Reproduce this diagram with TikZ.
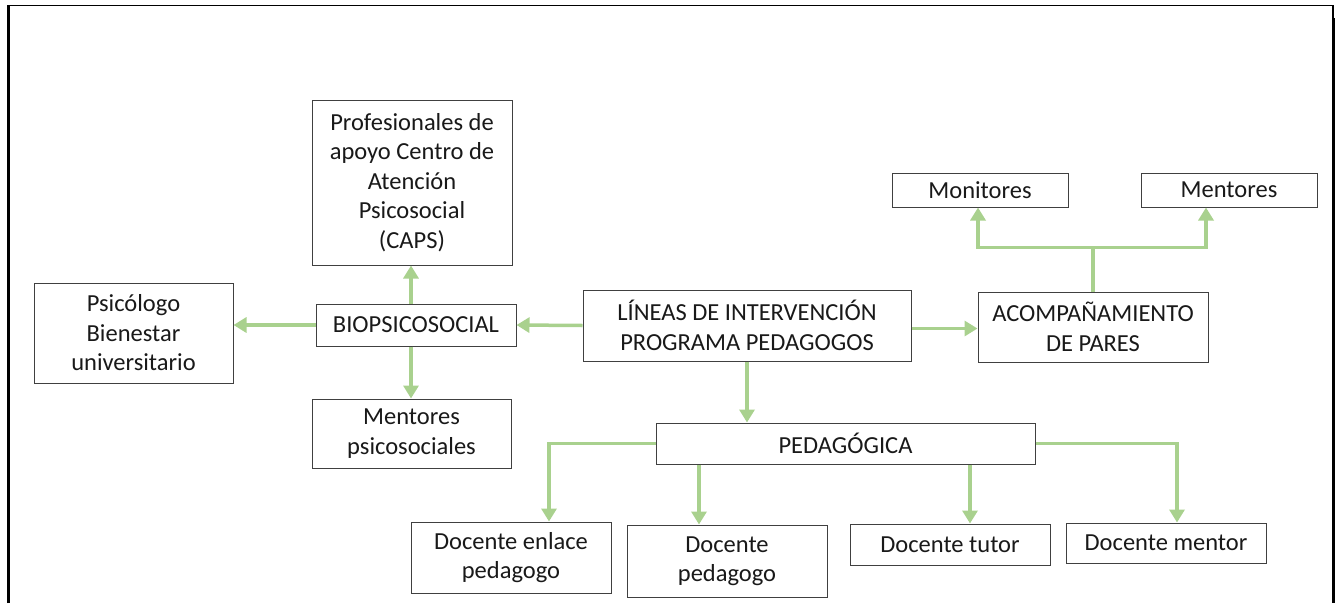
\documentclass[tikz,border=0pt]{standalone}
\usepackage{fontspec}
\setmainfont{Carlito}
\usetikzlibrary{arrows.meta,calc}
\definecolor{arrgreen}{RGB}{169,209,142}
\definecolor{boxline}{RGB}{64,64,64}
\definecolor{txt}{RGB}{25,25,25}
\begin{document}
\begin{tikzpicture}[x=1pt,y=-1pt,
  box/.style={draw=boxline,line width=1pt,fill=white,align=center,inner sep=0pt,
    text=txt,font=\fontsize{24.5}{29.5}\selectfont},
  conn/.style={draw=arrgreen,line width=3.5pt,-{Triangle[width=15pt,length=13pt]}},
  plain/.style={draw=arrgreen,line width=3.5pt}]
\useasboundingbox (0,0) rectangle (1338,603);
% frame
\draw[line width=1.5pt] (8,603) -- (8,5.5) -- (1333,5.5) -- (1333,603);
\draw[line width=3pt] (8.5,5) -- (8.5,603);
\draw[line width=3pt] (1333.5,18) -- (1333.5,603);
% nodes
\node[box,minimum width=200pt,minimum height=165pt] (prof) at (412,182.5)
  {Profesionales de\\apoyo Centro de\\Atención\\Psicosocial\\(CAPS)};
\node[box,minimum width=199pt,minimum height=100pt] (psic) at (133.5,333)
  {Psicólogo\\Bienestar\\universitario};
\node[box,minimum width=200pt,minimum height=42pt] (bio) at (416,325) {BIOPSICOSOCIAL};
\node[box,minimum width=199pt,minimum height=69pt] (ment) at (411.5,433.5)
  {Mentores\\psicosociales};
\node[box,minimum width=328pt,minimum height=71pt] (lin) at (747,325.5)
  {LÍNEAS DE INTERVENCIÓN\\PROGRAMA PEDAGOGOS};
\node[box,minimum width=230pt,minimum height=70pt] (acomp) at (1093,327)
  {ACOMPAÑAMIENTO\\DE PARES};
\node[box,minimum width=176pt,minimum height=34pt] (monit) at (980,190) {Monitores};
\node[box,minimum width=176pt,minimum height=34pt] (mentr) at (1229,190) {Mentores};
\node[box,minimum width=379pt,minimum height=41pt] (ped) at (845.5,443.5) {PEDAGÓGICA};
\node[box,minimum width=200pt,minimum height=71pt] (den) at (511,557.5)
  {Docente enlace\\pedagogo};
\node[box,minimum width=200pt,minimum height=72pt] (dped) at (727,561)
  {Docente\\pedagogo};
\node[box,minimum width=200pt,minimum height=41pt] (dtut) at (950,544.5) {Docente tutor};
\node[box,minimum width=200pt,minimum height=40pt] (dmen) at (1166,543) {Docente mentor};
% connectors
\draw[conn] (lin.west) -- (bio.east);
\draw[conn] (bio.west) -- (bio.west -| psic.east);
\draw[conn] ([xshift=-5pt]bio.north) -- ([xshift=-5pt]bio.north |- prof.south);
\draw[conn] ([xshift=-5pt]bio.south) -- ([xshift=-5pt]bio.south |- ment.north);
\draw[conn] ([yshift=-3pt]lin.east) -- ([yshift=-3pt]lin.east -| acomp.west);
\draw[conn] (lin.south) -- (lin.south |- ped.north);
\coordinate (aj) at ($(acomp.north)+(0,-44)$);
\draw[plain] (acomp.north) -- (aj);
\draw[conn,line cap=round] (aj) -| ([xshift=-2pt]monit.south);
\draw[conn] (aj) -| ([xshift=-23pt]mentr.south);
\draw[conn] (ped.west) -| ([xshift=38pt]den.north);
\draw[conn] ([xshift=-28pt]dped.north |- ped.south) -- ([xshift=-28pt]dped.north);
\draw[conn] ([xshift=20pt]dtut.north |- ped.south) -- ([xshift=20pt]dtut.north);
\draw[conn] (ped.east) -| ([xshift=11pt]dmen.north);
\end{tikzpicture}
\end{document}
